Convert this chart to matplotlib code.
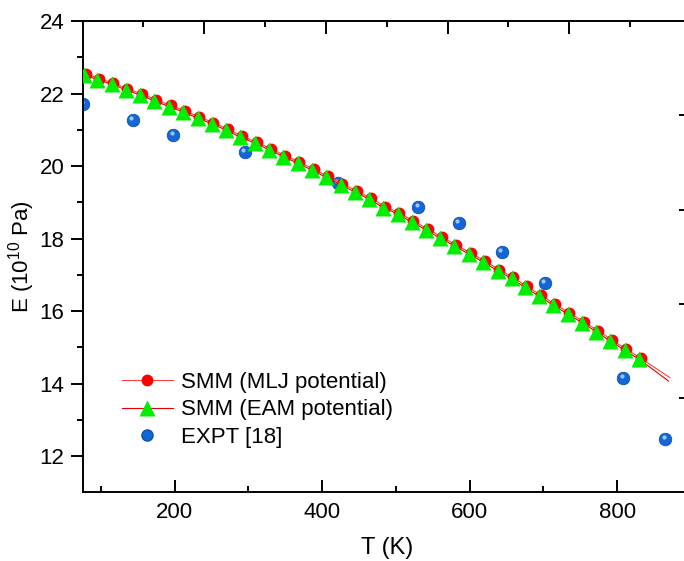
import matplotlib
matplotlib.use("Agg")
import matplotlib.pyplot as plt
from matplotlib.transforms import ScaledTranslation

plt.rcParams["font.family"] = ["Liberation Sans", "DejaVu Sans"]
plt.rcParams["mathtext.fontset"] = "custom"
plt.rcParams["mathtext.rm"] = "Liberation Sans"
plt.rcParams["mathtext.default"] = "regular"

# SMM (EAM potential) - green triangles
T_eam = [77.4, 95.1, 114.6, 133.6, 153.0, 172.3, 192.3, 211.7, 231.2, 250.2,
         269.6, 288.5, 308.9, 327.8, 347.2, 366.8, 386.6, 405.1, 425.1, 444.4,
         463.4, 482.8, 502.3, 521.3, 540.7, 559.7, 579.1, 599.0, 618.4, 637.9,
         656.9, 674.9, 694.3, 713.3, 732.8, 752.2, 771.6, 790.6, 810.1, 829.5]
E_eam = [22.52, 22.38, 22.26, 22.10, 21.96, 21.80, 21.64, 21.49, 21.32, 21.17,
         20.99, 20.80, 20.63, 20.45, 20.26, 20.08, 19.88, 19.69, 19.48, 19.28,
         19.09, 18.85, 18.68, 18.45, 18.24, 18.01, 17.80, 17.57, 17.35, 17.11,
         16.90, 16.65, 16.41, 16.16, 15.92, 15.68, 15.43, 15.17, 14.92, 14.67]
# line continues past the last marker
T_eam_tail = [849.0, 869.5]
E_eam_tail = [14.38, 14.07]

# SMM (MLJ potential) - red circles
T_mlj = [79.6, 97.3, 116.8, 135.8, 155.2, 174.5, 194.5, 213.9, 233.4, 252.4,
         271.8, 290.7, 311.1, 330.0, 349.4, 369.0, 388.8, 407.3, 427.3, 446.6,
         465.6, 485.0, 504.5, 523.5, 542.9, 561.9, 581.3, 601.2, 620.6, 640.1,
         659.1, 677.1, 696.5, 715.5, 735.0, 754.4, 773.8, 792.8, 812.3, 831.7]
E_mlj = [22.55, 22.41, 22.29, 22.13, 21.99, 21.83, 21.67, 21.52, 21.35, 21.20,
         21.02, 20.83, 20.66, 20.48, 20.29, 20.11, 19.91, 19.72, 19.51, 19.31,
         19.12, 18.88, 18.71, 18.48, 18.27, 18.04, 17.83, 17.60, 17.38, 17.14,
         16.93, 16.68, 16.44, 16.19, 15.95, 15.71, 15.46, 15.20, 14.95, 14.70]
T_mlj_tail = [851.0, 871.5]
E_mlj_tail = [14.44, 14.16]

# EXPT [18]
T_exp = [76.0, 143.1, 198.1, 295.3, 421.0, 530.3, 585.4, 643.3, 702.0, 808.2, 865.1]
E_exp = [21.71, 21.26, 20.86, 20.38, 19.54, 18.86, 18.42, 17.64, 16.77, 14.16, 12.47]

fig = plt.figure(figsize=(6.84, 5.61), dpi=100)
W, H = 684, 561
left, right, bottom, top = 82.5, 691.0, 492.3, 21.0
ax = fig.add_axes([left / W, 1 - bottom / H, (right - left) / W, (bottom - top) / H])

# experimental points: shaded blue spheres
ax.plot(T_exp, E_exp, "o", color="#1466d6", mec="#0d4fae", mew=0.6, ms=9,
        zorder=2, label="EXPT [18]")
hl = ax.transData + ScaledTranslation(-1.2 / 72, 1.4 / 72, fig.dpi_scale_trans)
ax.plot(T_exp, E_exp, "o", color="#a8d4ff", mec="none", ms=3, alpha=0.9,
        transform=hl, zorder=2.1)

ax.plot(T_mlj + T_mlj_tail, E_mlj + E_mlj_tail, "-", color="#ff4040", lw=0.8, zorder=3)
ax.plot(T_eam + T_eam_tail, E_eam + E_eam_tail, "-", color="#e00000", lw=0.8, zorder=3)
ax.plot(T_mlj, E_mlj, "o", color="#ff0000", mec="none", ms=8.5, zorder=4)
ax.plot(T_eam, E_eam, "^", color="#00ee00", mec="none", ms=11, zorder=5)

ax.set_xlim(75, 900)
ax.set_ylim(11, 24)
ax.set_xticks([200, 400, 600, 800])
ax.set_xticks([100, 300, 500, 700], minor=True)
ax.set_yticks([12, 14, 16, 18, 20, 22, 24])
ax.set_yticks([13, 15, 17, 19, 21, 23], minor=True)
ax.tick_params(axis="x", which="major", direction="in", length=9, width=1.4, labelsize=16, pad=7)
ax.tick_params(axis="x", which="minor", direction="in", length=4.5, width=1.4)
ax.tick_params(axis="y", which="major", direction="out", length=9, width=1.4, labelsize=16, pad=4)
ax.tick_params(axis="y", which="minor", direction="out", length=4.5, width=1.4)
for s in ax.spines.values():
    s.set_linewidth(1.4)

ax.set_xlabel("T (K)", fontsize=17, labelpad=10)
ax.set_ylabel("E (10$^{10}$ Pa)", fontsize=16, labelpad=2)

# top / right axis ticks of the frame layer
ax2 = fig.add_axes(ax.get_position(), frameon=False)
ax2.set_xlim(0, 10)
ax2.set_ylim(0, 5)
ax2.xaxis.tick_top()
ax2.yaxis.tick_right()
ax2.set_xticks([2, 4, 6, 8])
ax2.set_xticks([1, 3, 5, 7, 9], minor=True)
ax2.set_yticks([1, 2, 3, 4])
ax2.tick_params(which="major", direction="in", length=9, width=1.4,
                labeltop=False, labelright=False)
ax2.tick_params(which="minor", direction="in", length=4.5, width=1.4)
ax2.patch.set_visible(False)

# legend
h1, = ax.plot([], [], "-o", color="#ff4040", mfc="#ff0000", mec="none", ms=8.5, lw=0.8)
h2, = ax.plot([], [], "-^", color="#e00000", mfc="#00ee00", mec="none", ms=11, lw=0.8)
h3, = ax.plot([], [], "o", color="#1466d6", mec="#0d4fae", ms=8)
ax.legend([h1, h2, h3], ["SMM (MLJ potential)", "SMM (EAM potential)", "EXPT [18]"],
          loc="lower left", bbox_to_anchor=(0.05, 0.075), frameon=False, fontsize=16,
          handlelength=2.3, handletextpad=0.35, labelspacing=0.3, borderaxespad=0)

fig.savefig("out.png", dpi=100)
